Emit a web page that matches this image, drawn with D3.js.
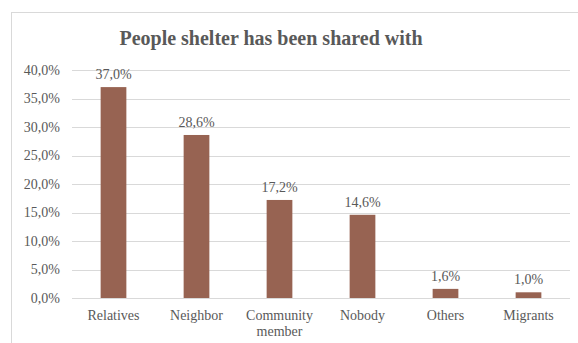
<!DOCTYPE html>
<html>
<head>
<meta charset="utf-8">
<script src="https://cdn.jsdelivr.net/npm/d3@7"></script>
<style>
  html, body { margin: 0; padding: 0; background: #fff; }
  svg { display: block; }
</style>
</head>
<body>
<svg id="chart" width="578" height="343"></svg>
<script>
// Share of respondents by who they shared shelter with
const categories = ["Relatives", "Neighbor", "Community member", "Nobody", "Others", "Migrants"];
const values = [37.0, 28.6, 17.2, 14.6, 1.6, 1.0];
const yTicks = [0, 5, 10, 15, 20, 25, 30, 35, 40];
const title = "People shelter has been shared with";

const FONT = '"Liberation Serif"';
const INK = "#595959";

const svg = d3.select("#chart");
const W = 578, H = 343;
const plot = { left: 72, right: 570, top: 70, bottom: 298 };

// chart frame (runs off the right and bottom edges)
svg.append("rect")
  .attr("x", 11.5).attr("y", 12.5)
  .attr("width", W + 20).attr("height", H + 20)
  .attr("fill", "#fff").attr("stroke", "#d9d9d9").attr("stroke-width", 1);

const fmt = v => v.toFixed(1).replace(".", ",") + "%";

const x = d3.scaleBand().domain(categories).range([plot.left, plot.right]).paddingInner(0.69).paddingOuter(0.345);
const y = d3.scaleLinear().domain([0, 40]).range([plot.bottom, plot.top]);

// gridlines
svg.append("g").selectAll("line").data(yTicks).join("line")
  .attr("x1", plot.left).attr("x2", plot.right)
  .attr("y1", d => Math.round(y(d)) + 0.5).attr("y2", d => Math.round(y(d)) + 0.5)
  .attr("stroke", "#d9d9d9").attr("stroke-width", 1);

// y axis labels
const yAxis = d3.axisLeft(y).tickValues(yTicks).tickFormat(fmt).tickSize(0).tickPadding(0);
const gy = svg.append("g").attr("transform", `translate(60,0)`).call(yAxis);
gy.select(".domain").remove();
gy.attr("font-family", null).attr("font-size", null);
gy.selectAll("text")
  .style("font-family", FONT).style("font-size", "14px").style("fill", INK);

// bars
svg.append("g").selectAll("rect").data(values).join("rect")
  .attr("x", (d, i) => x(categories[i]))
  .attr("y", d => y(d))
  .attr("width", x.bandwidth())
  .attr("height", d => y(0) - y(d))
  .attr("fill", "#976352");

// value labels
svg.append("g").selectAll("text").data(values).join("text")
  .attr("x", (d, i) => x(categories[i]) + x.bandwidth() / 2)
  .attr("y", d => y(d) - 8)
  .attr("text-anchor", "middle")
  .style("font-family", FONT).style("font-size", "14px").style("fill", INK)
  .text(d => fmt(d));

// category labels (wrapped at spaces)
const gx = svg.append("g");
categories.forEach((c, i) => {
  const cx = x(c) + x.bandwidth() / 2;
  const t = gx.append("text").attr("x", cx).attr("y", 320).attr("text-anchor", "middle")
    .style("font-family", FONT).style("font-size", "14px").style("fill", INK);
  c.split(" ").forEach((w, j) => {
    t.append("tspan").attr("x", cx).attr("dy", j === 0 ? 0 : 16).text(w);
  });
});

// title
svg.append("text")
  .attr("x", 271).attr("y", 45)
  .attr("text-anchor", "middle")
  .style("font-family", FONT).style("font-size", "20px").style("font-weight", "bold").style("fill", INK)
  .text(title);
</script>
</body>
</html>
